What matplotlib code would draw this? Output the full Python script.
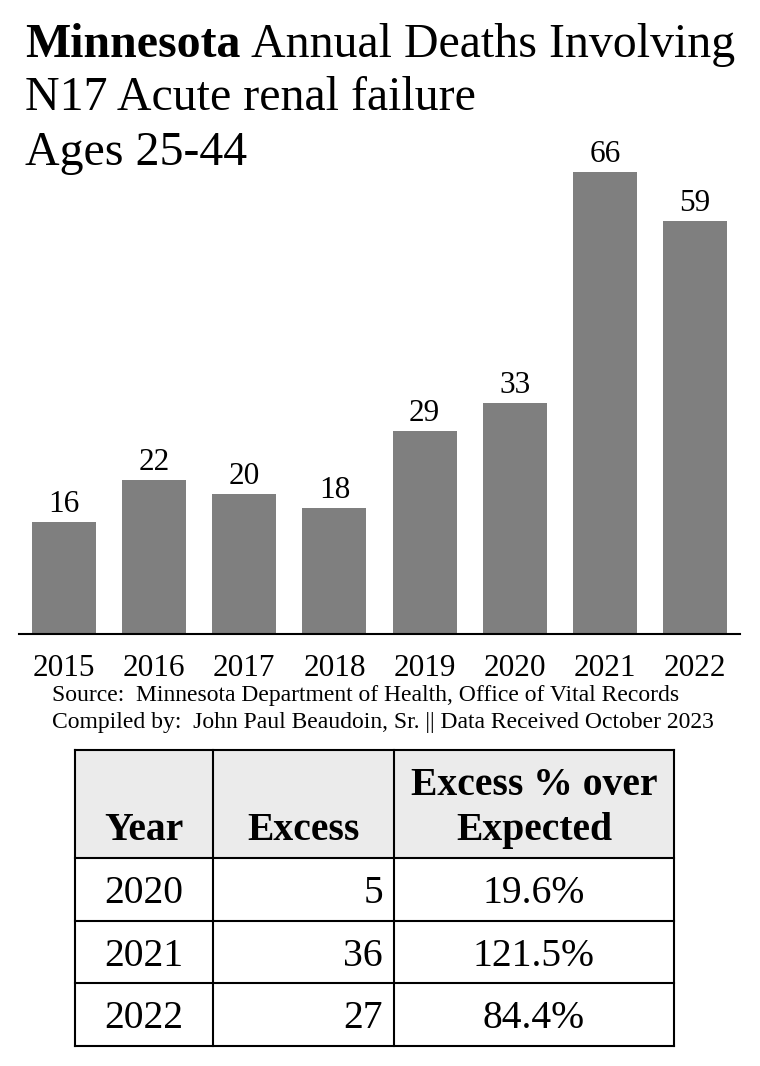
import matplotlib
matplotlib.use("Agg")
import matplotlib.pyplot as plt
from matplotlib.patches import Rectangle

plt.rcParams['font.family'] = ['Liberation Serif', 'DejaVu Serif']

years = ["2015", "2016", "2017", "2018", "2019", "2020", "2021", "2022"]
deaths = [16, 22, 20, 18, 29, 33, 66, 59]

table_header = ["Year", "Excess", "Excess % over\nExpected"]
table_years = ["2020", "2021", "2022"]
table_excess = [5, 36, 27]
table_pct = ["19.6%", "121.5%", "84.4%"]

W, H = 760, 1066
fig = plt.figure(figsize=(W / 100, H / 100), dpi=100)

# bar chart
ax = fig.add_axes([19 / W, (H - 634) / H, (740 - 19) / W, 614 / H])
x = range(len(years))
bars = ax.bar(x, deaths, width=0.71, color='#7f7f7f')
for xi, v in zip(x, deaths):
    ax.annotate(str(v), (xi, v), xytext=(0, 7), textcoords='offset points',
                ha='center', va='baseline', fontsize=22.5)
ax.set_xlim(-0.5, len(years) - 0.5)
ax.set_ylim(0, 614 / 7.0)
ax.set_xticks(list(x))
ax.set_xticklabels(years, fontsize=22.5)
ax.tick_params(axis='x', length=0, pad=14.5)
ax.set_yticks([])
for s in ['top', 'left', 'right']:
    ax.spines[s].set_visible(False)
ax.spines['bottom'].set_linewidth(1.5)
ax.patch.set_alpha(0)

# overlay in pixel coords for title, source and table
ov = fig.add_axes([0, 0, 1, 1])
ov.set_xlim(0, W)
ov.set_ylim(H, 0)
ov.axis('off')
ov.patch.set_alpha(0)

fig.canvas.draw()
r = fig.canvas.get_renderer()
tfs = 34.5
t1 = ov.text(25, 57, "Minnesota", fontsize=tfs, fontweight='bold', va='baseline')
bb = t1.get_window_extent(renderer=r)
ov.text(bb.x1 + 11, 57, "Annual Deaths Involving", fontsize=tfs, va='baseline')
ov.text(25, 110, "N17 Acute renal failure", fontsize=tfs, va='baseline')
ov.text(25, 165, "Ages 25-44", fontsize=tfs, va='baseline')

ov.text(52, 701, "Source:  Minnesota Department of Health, Office of Vital Records",
        fontsize=17, va='baseline')
ov.text(52, 728, "Compiled by:  John Paul Beaudoin, Sr. || Data Received October 2023",
        fontsize=17, va='baseline')

# table
cols = [75, 213, 394, 674]
rows = [750, 858, 921, 983, 1046]
ov.add_patch(Rectangle((cols[0], rows[0]), cols[-1] - cols[0], rows[1] - rows[0],
                       facecolor='#ebebeb', edgecolor='none'))
for c in cols:
    ov.plot([c, c], [rows[0], rows[-1]], color='black', lw=1.5, solid_capstyle='projecting')
for rr in rows:
    ov.plot([cols[0], cols[-1]], [rr, rr], color='black', lw=1.5, solid_capstyle='projecting')

fs = 28.5
ov.text((cols[0] + cols[1]) / 2, 840, table_header[0], fontsize=fs, fontweight='bold',
        ha='center', va='baseline')
ov.text((cols[1] + cols[2]) / 2, 840, table_header[1], fontsize=fs, fontweight='bold',
        ha='center', va='baseline')
h1, h2 = table_header[2].split("\n")
ov.text((cols[2] + cols[3]) / 2, 795, h1, fontsize=fs, fontweight='bold',
        ha='center', va='baseline')
ov.text((cols[2] + cols[3]) / 2, 840, h2, fontsize=fs, fontweight='bold',
        ha='center', va='baseline')

for i in range(len(table_years)):
    yb = rows[i + 1] + 45
    ov.text((cols[0] + cols[1]) / 2, yb, table_years[i], fontsize=fs, ha='center', va='baseline')
    ov.text(cols[2] - 11, yb, str(table_excess[i]), fontsize=fs, ha='right', va='baseline')
    ov.text((cols[2] + cols[3]) / 2, yb, table_pct[i], fontsize=fs, ha='center', va='baseline')

fig.savefig("out.png", dpi=100)
